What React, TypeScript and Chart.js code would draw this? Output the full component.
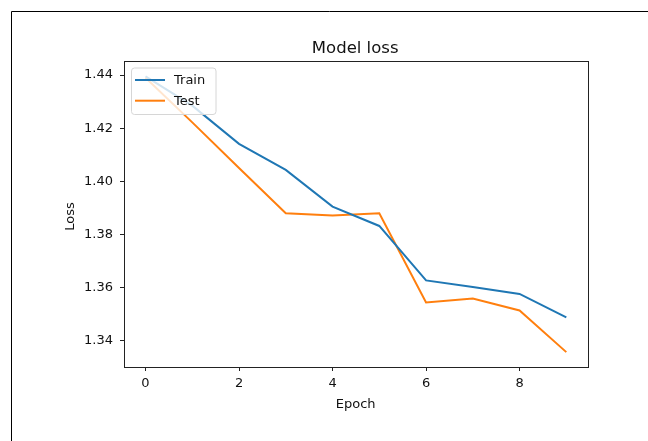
import React, { useEffect, useRef } from "react";
import { Chart, registerables } from "chart.js";

Chart.register(...registerables);

const epochs = [0, 1, 2, 3, 4, 5, 6, 7, 8, 9];
const trainLoss = [1.4395, 1.4285, 1.4141, 1.4043, 1.3905, 1.3832, 1.3627, 1.3602, 1.3576, 1.3488];
const testLoss = [1.439, 1.4222, 1.405, 1.388, 1.3871, 1.388, 1.3544, 1.3559, 1.3514, 1.3357];
const xTicks = [0, 2, 4, 6, 8];
const yTicks = [1.34, 1.36, 1.38, 1.4, 1.42, 1.44];
const seriesNames = ["Train", "Test"];
const seriesColors = ["#1f77b4", "#ff7f0e"];
const titleText = "Model loss";
const xTitle = "Epoch";
const yTitle = "Loss";

const FONT = "DejaVu Sans";

const decorPlugin = {
  id: "decor",
  afterDatasetsDraw(chart: any) {
    const ctx = chart.ctx as CanvasRenderingContext2D;
    const a = chart.chartArea;
    ctx.save();
    // plot box
    ctx.strokeStyle = "#222";
    ctx.lineWidth = 1;
    ctx.strokeRect(Math.round(a.left) + 0.5, Math.round(a.top) + 0.5, Math.round(a.right - a.left), Math.round(a.bottom - a.top));
    // legend
    const lx = 131, ly = 67.5, lw = 84.5, lh = 46.5;
    ctx.fillStyle = "rgba(255,255,255,0.8)";
    ctx.strokeStyle = "#d6d6d6";
    ctx.beginPath();
    (ctx as any).roundRect ? (ctx as any).roundRect(lx + 0.5, ly + 0.5, lw, lh, 3) : ctx.rect(lx + 0.5, ly + 0.5, lw, lh);
    ctx.fill();
    ctx.stroke();
    const rows = [80, 100.7];
    seriesNames.forEach((name, i) => {
      ctx.strokeStyle = seriesColors[i];
      ctx.lineWidth = 2;
      ctx.beginPath();
      ctx.moveTo(135, rows[i]);
      ctx.lineTo(165, rows[i]);
      ctx.stroke();
      ctx.fillStyle = "#111";
      ctx.font = `13px "${FONT}"`;
      ctx.textAlign = "left";
      ctx.textBaseline = "middle";
      ctx.fillText(name, 174, rows[i] + 0.5);
    });
    ctx.restore();
  },
  afterDraw(chart: any) {
    const ctx = chart.ctx as CanvasRenderingContext2D;
    const a = chart.chartArea;
    const cx = (a.left + a.right) / 2;
    ctx.save();
    ctx.fillStyle = "#111";
    ctx.textAlign = "center";
    ctx.textBaseline = "alphabetic";
    ctx.font = `16.5px "${FONT}"`;
    ctx.fillText(titleText, cx - 1, 52.7);
    ctx.font = `13px "${FONT}"`;
    ctx.fillText(xTitle, cx - 0.5, 408.3);
    ctx.translate(74.3, (a.top + a.bottom) / 2 + 2.5);
    ctx.rotate(-Math.PI / 2);
    ctx.fillText(yTitle, 0, 0);
    ctx.restore();
    // outer border (top and left)
    ctx.save();
    ctx.strokeStyle = "#000";
    ctx.lineWidth = 1;
    ctx.beginPath();
    ctx.moveTo(11.5, 441);
    ctx.lineTo(11.5, 11.5);
    ctx.lineTo(648, 11.5);
    ctx.stroke();
    ctx.restore();
  },
};

export default function App() {
  const ref = useRef<HTMLCanvasElement | null>(null);
  useEffect(() => {
    if (!ref.current) return;
    const chart = new Chart(ref.current, {
      type: "line",
      data: {
        datasets: [
          {
            label: seriesNames[0],
            data: epochs.map((e, i) => ({ x: e, y: trainLoss[i] })),
            borderColor: seriesColors[0],
            backgroundColor: seriesColors[0],
            borderWidth: 2,
            pointRadius: 0,
            tension: 0,
          },
          {
            label: seriesNames[1],
            data: epochs.map((e, i) => ({ x: e, y: testLoss[i] })),
            borderColor: seriesColors[1],
            backgroundColor: seriesColors[1],
            borderWidth: 2,
            pointRadius: 0,
            tension: 0,
          },
        ],
      },
      options: {
        animation: false,
        responsive: false,
        maintainAspectRatio: false,
        layout: { padding: { left: 0, right: 59.7, top: 61, bottom: 0 } },
        plugins: {
          legend: { display: false },
          title: { display: false },
          tooltip: { enabled: false },
        },
        scales: {
          x: {
            type: "linear",
            min: -0.46,
            max: 9.47,
            afterBuildTicks: (s: any) => {
              s.ticks = xTicks.map((v) => ({ value: v }));
            },
            afterFit: (s: any) => {
              s.height = 74;
            },
            grid: { drawOnChartArea: false, drawTicks: true, tickLength: 4, color: "#222" },
            border: { display: true, color: "#222" },
            ticks: {
              color: "#111",
              padding: 5,
              font: { family: FONT, size: 13 },
              maxRotation: 0,
              callback: (v: any) => String(v),
            },
          },
          y: {
            type: "linear",
            min: 1.3301,
            max: 1.4453,
            afterBuildTicks: (s: any) => {
              s.ticks = yTicks.map((v) => ({ value: v }));
            },
            afterFit: (s: any) => {
              s.width = 124;
            },
            grid: { drawOnChartArea: false, drawTicks: true, tickLength: 4, color: "#222" },
            border: { display: true, color: "#222" },
            ticks: {
              color: "#111",
              padding: 7,
              font: { family: FONT, size: 13 },
              callback: (v: any) => Number(v).toFixed(2),
            },
          },
        },
      },
      plugins: [decorPlugin],
    });
    return () => chart.destroy();
  }, []);
  return (
    <div style={{ position: "fixed", left: 0, top: 0, width: 648, height: 441, background: "#fff" }}>
      <canvas ref={ref} width={648} height={441} style={{ width: 648, height: 441, display: "block" }} />
    </div>
  );
}
